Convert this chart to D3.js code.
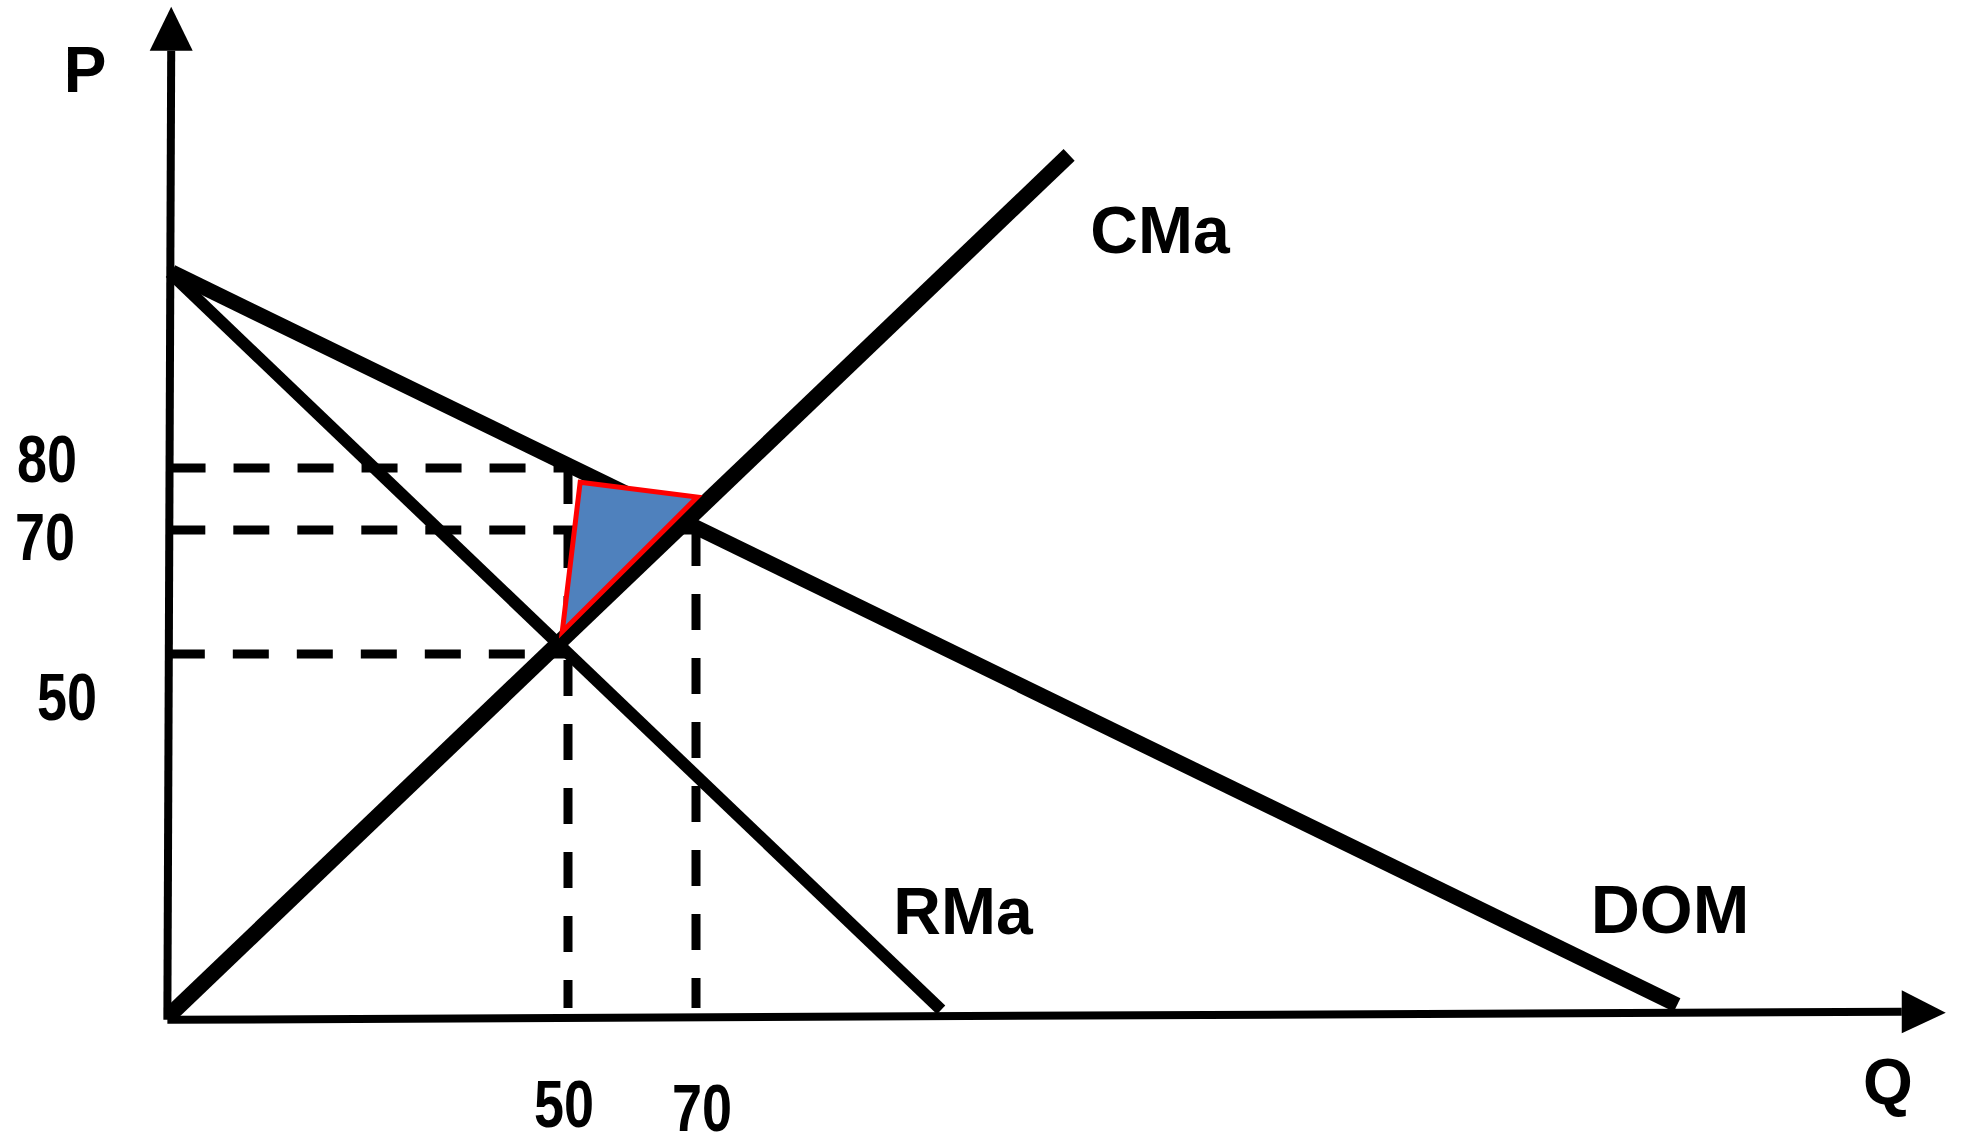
<!DOCTYPE html>
<html>
<head>
<meta charset="utf-8">
<script src="https://cdn.jsdelivr.net/npm/d3@7"></script>
<style>
  html, body { margin: 0; padding: 0; background: #ffffff; }
  svg { display: block; }
</style>
</head>
<body>
<script>
// ---------------- data ----------------
// economic units: Q (quantity) and P (price)
const curveNames = ["CMa", "RMa", "DOM"];
const curveQ = [[-12.2, 128.3], [-12.2, 108.3], [-11.9, 223.3]];
const curveP = [[-8.2, 130.5], [111.5, -7.4], [111.6, -6.6]];

const priceTicks = [80, 70, 50];
const priceTickLabels = ["80", "70", "50"];
const qtyTicks = [50, 70];
const qtyTickLabels = ["50", "70"];

// dashed guides: horizontal at price level up to a quantity, vertical at quantity from a price
const guideHPrice = [80, 70, 50];
const guideHToQty = [50, 70, 50];
const guideVQty = [50, 70];
const guideVFromPrice = [80, 70];

// shaded triangle (Q, P)
const areaQ = [51.9, 70.2, 49.1];
const areaP = [77.7, 75.3, 53.6];

// axes (Q, P)
const axisOriginQ = -12.6, axisOriginP = -9.0;
const pAxisTop = [-12.0, 147.3];
const qAxisEnd = [258.4, -7.7];
const guideBottomP = -7.1;

const axisTitles = ["P", "Q"];

// ---------------- layout ----------------
const W = 1968, H = 1144;
const x = d3.scaleLinear().domain([50, 70]).range([568, 696]);
const y = d3.scaleLinear().domain([50, 80]).range([654, 468]);

const svg = d3.select("body").append("svg").attr("width", W).attr("height", H);

const FONT = "'Liberation Sans', Arial, Helvetica, sans-serif";
const NARROW = "'Liberation Sans Narrow', 'Arial Narrow', 'Liberation Sans', Arial, sans-serif";

// axis value at a given P for the (slightly tilted) P axis
function pAxisQ(p) {
  return axisOriginQ + (pAxisTop[0] - axisOriginQ) * (p - axisOriginP) / (pAxisTop[1] - axisOriginP);
}

// dashed guides
const dash = "36,28";
const gGuides = svg.append("g").attr("stroke", "#000").attr("stroke-width", 9)
  .attr("fill", "none").attr("stroke-dasharray", dash);
gGuides.selectAll("line.h").data(guideHPrice).enter().append("line")
  .attr("class", "h")
  .attr("x1", d => x(pAxisQ(d)))
  .attr("y1", d => y(d))
  .attr("x2", (d, i) => x(guideHToQty[i]))
  .attr("y2", d => y(d));
gGuides.selectAll("line.v").data(guideVQty).enter().append("line")
  .attr("class", "v")
  .attr("x1", d => x(d))
  .attr("y1", (d, i) => y(guideVFromPrice[i]))
  .attr("x2", d => x(d))
  .attr("y2", y(guideBottomP));

// axes
const gAxes = svg.append("g");
gAxes.append("line")
  .attr("x1", x(axisOriginQ)).attr("y1", y(axisOriginP))
  .attr("x2", x(pAxisTop[0])).attr("y2", y(pAxisTop[1]))
  .attr("stroke", "#000").attr("stroke-width", 8);
gAxes.append("line")
  .attr("x1", x(axisOriginQ)).attr("y1", y(axisOriginP))
  .attr("x2", x(qAxisEnd[0])).attr("y2", y(qAxisEnd[1]))
  .attr("stroke", "#000").attr("stroke-width", 8);
// arrowheads
const ah = 44, aw = 21.5;
{
  const bx = x(pAxisTop[0]), by = y(pAxisTop[1]);
  gAxes.append("path")
    .attr("d", `M${bx - aw},${by} L${bx + aw},${by} L${bx},${by - ah} Z`)
    .attr("fill", "#000");
}
{
  const bx = x(qAxisEnd[0]), by = y(qAxisEnd[1]);
  gAxes.append("path")
    .attr("d", `M${bx},${by - aw} L${bx},${by + aw} L${bx + ah},${by + 1} Z`)
    .attr("fill", "#000");
}

// curves
const curveWidths = [16, 12, 15];
svg.append("g").selectAll("line").data(curveNames).enter().append("line")
  .attr("x1", (d, i) => x(curveQ[i][0]))
  .attr("y1", (d, i) => y(curveP[i][0]))
  .attr("x2", (d, i) => x(curveQ[i][1]))
  .attr("y2", (d, i) => y(curveP[i][1]))
  .attr("stroke", "#000")
  .attr("stroke-width", (d, i) => curveWidths[i])
  .attr("stroke-linecap", "butt");

// shaded triangle
svg.append("path")
  .datum(areaQ.map((q, i) => [x(q), y(areaP[i])]))
  .attr("d", d => d3.line()(d) + "Z")
  .attr("fill", "#4F81BD")
  .attr("stroke", "#FF0000")
  .attr("stroke-width", 5)
  .attr("stroke-linejoin", "miter");

// curve labels
const curveLabelPos = [[1160, 253], [963, 934], [1670, 933]];
const curveLabelSize = [66, 66, 68];
svg.append("g").selectAll("text").data(curveNames).enter().append("text")
  .attr("x", (d, i) => curveLabelPos[i][0])
  .attr("y", (d, i) => curveLabelPos[i][1])
  .attr("text-anchor", "middle")
  .attr("font-family", FONT).attr("font-weight", "bold")
  .attr("font-size", (d, i) => curveLabelSize[i])
  .attr("fill", "#000")
  .text(d => d);

// axis titles
const axisTitlePos = [[85, 92], [1888, 1104]];
svg.append("g").selectAll("text").data(axisTitles).enter().append("text")
  .attr("x", (d, i) => axisTitlePos[i][0])
  .attr("y", (d, i) => axisTitlePos[i][1])
  .attr("text-anchor", "middle")
  .attr("font-family", FONT).attr("font-weight", "bold")
  .attr("font-size", 64).attr("fill", "#000")
  .text(d => d);

// tick labels (condensed digits)
const priceLabelPos = [[47, 482], [45, 560], [67, 720]];
const qtyLabelPos = [[564, 1127], [702, 1131]];
function tickText(g, labels, pos) {
  g.selectAll("text").data(labels).enter().append("text")
    .attr("x", (d, i) => pos[i][0])
    .attr("y", (d, i) => pos[i][1])
    .attr("text-anchor", "middle")
    .attr("font-family", NARROW).attr("font-weight", "bold")
    .attr("font-size", 66).attr("fill", "#000")
    .attr("textLength", 60).attr("lengthAdjust", "spacingAndGlyphs")
    .text(d => d);
}
tickText(svg.append("g").attr("class", "ptick"), priceTickLabels, priceLabelPos);
tickText(svg.append("g").attr("class", "qtick"), qtyTickLabels, qtyLabelPos);
</script>
</body>
</html>
